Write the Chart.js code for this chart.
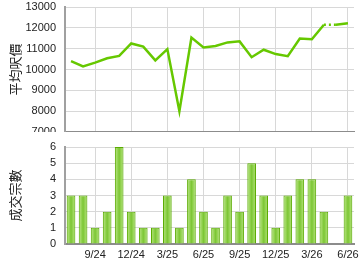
<!DOCTYPE html>
<html>
<head>
<meta charset="utf-8">
<script src="https://cdn.jsdelivr.net/npm/chart.js@4"></script>
<style>
  body { margin: 0; background: #fff; }
  .box { position: absolute; left: 0; width: 360px; }
  #top { top: 0; height: 132px; }
  #bottom { top: 135px; height: 135px; }
</style>
</head>
<body>
<div class="box" id="top"><canvas id="priceChart"></canvas></div>
<div class="box" id="bottom"><canvas id="dealChart"></canvas></div>
<script>
// Months (7/24 .. 6/26)
const months = ['7/24', '8/24', '9/24', '10/24', '11/24', '12/24', '1/25', '2/25', '3/25', '4/25', '5/25', '6/25',
                '7/25', '8/25', '9/25', '10/25', '11/25', '12/25', '1/26', '2/26', '3/26', '4/26', '5/26', '6/26'];

// Average price per sq ft
const avgPrice = [10400, 10150, 10330, 10540, 10650, 11250, 11100, 10440, 10980, 8000, 11530, 11060,
                  11130, 11300, 11350, 10590, 10950, 10740, 10640, 11490, 11450, 12150, 12150, 12220];

// Number of deals
const deals = [3, 3, 1, 2, 6, 2, 1, 1, 3, 1, 4, 2, 1, 3, 2, 5, 3, 1, 3, 4, 4, 2, 0, 3];

const priceTicks = [7000, 8000, 9000, 10000, 11000, 12000, 13000];
const dealTicks = [0, 1, 2, 3, 4, 5, 6];

const gridGray = '#d8d8d8';
const tickFont = { family: 'Liberation Sans', size: 11 };
const titleFont = { family: 'Noto Sans CJK TC', size: 13 };

// Only every 3rd month gets a label and a grid line
const showMonth = i => i % 3 === 2;

function xAxis(showLabels) {
  return {
    type: 'category',
    offset: true,
    grid: {
      offset: false,
      drawTicks: false,
      color: ctx => showMonth(ctx.index) ? gridGray : 'rgba(0,0,0,0)'
    },
    border: { color: '#8c8c8c', width: 2 },
    ticks: {
      display: showLabels,
      autoSkip: false,
      maxRotation: 0,
      color: '#222',
      font: tickFont,
      padding: 4,
      callback: (v, i) => showMonth(i) ? months[i] : ''
    },
    afterFit: s => { s.height = showLabels ? 26 : 0; s.paddingLeft = 0; s.paddingRight = 0; }
  };
}

function yAxis(title, min, max, ticks) {
  return {
    min: min,
    max: max,
    afterBuildTicks: s => { s.ticks = ticks.map(v => ({ value: v })); },
    grid: { color: gridGray, drawTicks: false },
    border: { color: '#a0a0a0', width: 2 },
    ticks: {
      color: '#222', font: tickFont, padding: 9, autoSkip: false,
      callback: v => String(v)
    },
    title: { display: true, text: title, color: '#222', font: titleFont, padding: { top: 7, bottom: 0 } },
    afterFit: s => { s.width = 65; s.paddingTop = 0; s.paddingBottom = 0; }
  };
}

// cylinder-like shading across each bar
function barShade(ctx) {
  const chart = ctx.chart;
  const x = chart.scales.x;
  const cx = x && ctx.dataIndex !== undefined ? x.getPixelForValue(ctx.dataIndex) : NaN;
  if (!isFinite(cx)) return '#92d050';
  const g = chart.ctx.createLinearGradient(cx - 4.5, 0, cx + 4.5, 0);
  g.addColorStop(0, '#6cc21c');
  g.addColorStop(0.2, '#a6dc6a');
  g.addColorStop(0.5, '#7cc634');
  g.addColorStop(0.8, '#a2da64');
  g.addColorStop(1, '#62b414');
  return g;
}

new Chart(document.getElementById('priceChart'), {
  type: 'line',
  data: {
    labels: months,
    datasets: [{
      data: avgPrice,
      borderColor: '#66c800',
      borderWidth: 2.5,
      pointRadius: 0,
      tension: 0,
      segment: {
        borderDash: ctx => deals[ctx.p1DataIndex] === 0 ? [2, 3] : undefined
      }
    }]
  },
  options: {
    responsive: true,
    maintainAspectRatio: false,
    animation: false,
    layout: { padding: { top: 7, right: 6, left: 0, bottom: 0 } },
    plugins: { legend: { display: false }, tooltip: { enabled: false } },
    scales: {
      x: xAxis(false),
      y: yAxis('平均呎價', 7000, 13000, priceTicks)
    }
  }
});

new Chart(document.getElementById('dealChart'), {
  type: 'bar',
  data: {
    labels: months,
    datasets: [{
      data: deals,
      backgroundColor: barShade,
      borderColor: '#5aab00',
      borderWidth: 1,
      categoryPercentage: 1,
      barPercentage: 0.72
    }]
  },
  options: {
    responsive: true,
    maintainAspectRatio: false,
    animation: false,
    layout: { padding: { top: 12, right: 6, left: 0, bottom: 0 } },
    plugins: { legend: { display: false }, tooltip: { enabled: false } },
    scales: {
      x: xAxis(true),
      y: yAxis('成交宗數', 0, 6, dealTicks)
    }
  }
});
</script>
</body>
</html>
